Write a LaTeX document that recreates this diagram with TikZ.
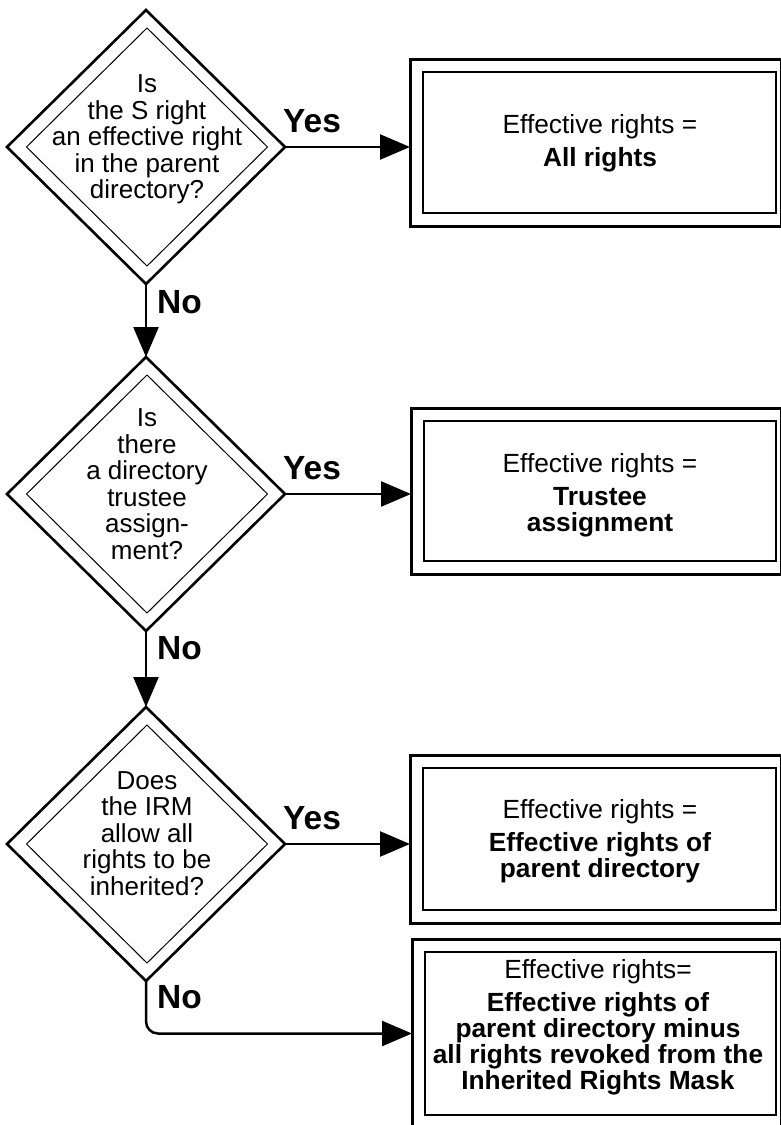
\documentclass[tikz,border=0pt]{standalone}
\usepackage{fontspec}
\setmainfont{Liberation Sans}
\usetikzlibrary{shapes.geometric,arrows.meta}
\begin{document}
\begin{tikzpicture}[x=1pt,y=-1pt,
  decision/.style={diamond, draw, line width=2.6pt, minimum width=278pt,
    minimum height=274pt, inner sep=0pt, outer sep=0pt},
  decisioninner/.style={diamond, draw, line width=1pt, minimum width=241pt,
    minimum height=238pt, inner sep=0pt, outer sep=0pt},
  question/.style={align=center, inner sep=0pt,
    font=\fontsize{26}{26.5}\selectfont},
  outcome/.style={rectangle, draw, line width=3pt, inner sep=0pt, outer sep=0pt},
  outcomeinner/.style={draw, line width=1.4pt},
  result/.style={align=center, inner sep=0pt, font=\fontsize{26.3}{26}\selectfont},
  answer/.style={anchor=base west, inner sep=0pt,
    font=\bfseries\fontsize{33.5}{33.5}\selectfont},
  flow/.style={line width=2.5pt, -{Triangle[length=30pt,width=25pt]}},
]
\useasboundingbox (0,0) rectangle (781,1125);

% decisions
\node[decision] (d1) at (146,147) {};
\node[decisioninner] (d1i) at (147,147) {};
\node[question] (q1) at (147,139.7)
  {Is\\the S right\\an effective right\\in the parent\\directory?};

\node[decision] (d2) at (146,494) {};
\node[decisioninner] (d2i) at (147,494) {};
\node[question] (q2) at (147,484)
  {Is\\there\\a directory\\trustee\\assign-\\ment?};

\node[decision] (d3) at (146,844) {};
\node[decisioninner] (d3i) at (147,844) {};
\node[question] (q3) at (147,833.5)
  {Does\\the IRM\\allow all\\rights to be\\inherited?};

% outcomes
\node[outcome, minimum width=371pt, minimum height=167pt] (b1) at (595.5,142.5) {};
\node[outcome, minimum width=370pt, minimum height=166pt] (b2) at (596,491) {};
\node[outcome, minimum width=371pt, minimum height=168pt] (b3) at (595.5,839) {};
\node[outcome, minimum width=369pt, minimum height=189pt] (b4) at (596.5,1033.5) {};
\foreach \b in {b1,b2,b3,b4}
  \draw[outcomeinner] ([xshift=13pt,yshift=-13pt]\b.north west)
    rectangle ([xshift=-5pt,yshift=13pt]\b.south east);

\node[result] (r1) at (600,143)
  {Effective rights =\\[7pt]\textbf{All rights}};
\node[result] (r2) at (600,495)
  {Effective rights =\\[7pt]\textbf{Trustee}\\\textbf{assignment}};
\node[result] (r3) at (600,841)
  {Effective rights =\\[7pt]\textbf{Effective rights of}\\\textbf{parent directory}};
\node[result] (r4) at (598,1027)
  {Effective rights=\\[7pt]\textbf{Effective rights of}\\\textbf{parent directory minus}\\
   \textbf{all rights revoked from the}\\\textbf{Inherited Rights Mask}};

% connectors
\draw[flow] (d1.east) -- (d1.east -| b1.west);
\draw[flow] (d2.east) -- (d2.east -| b2.west);
\draw[flow] (d3.east) -- (d3.east -| b3.west);
\draw[flow] (d1.south) -- (d2.north);
\draw[flow] (d2.south) -- (d3.north);
\draw[flow, rounded corners=12pt] (d3.south) |- (b4.west);

% branch labels
\node[answer] (y1) at (283,132) {Yes};
\node[answer] (y2) at (283,479) {Yes};
\node[answer] (y3) at (283,829) {Yes};
\node[answer] (n1) at (157,313) {No};
\node[answer] (n2) at (157,659) {No};
\node[answer] (n3) at (157,1008) {No};
\end{tikzpicture}
\end{document}
